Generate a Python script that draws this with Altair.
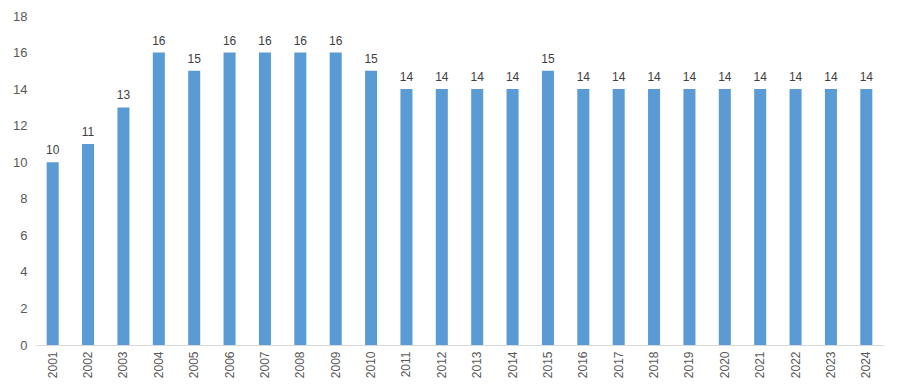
import altair as alt
import pandas as pd

years = [str(y) for y in range(2001, 2025)]
values = [10, 11, 13, 16, 15, 16, 16, 16, 16, 15, 14, 14, 14, 14, 15,
          14, 14, 14, 14, 14, 14, 14, 14, 14]
y_ticks = [0, 2, 4, 6, 8, 10, 12, 14, 16, 18]

df = pd.DataFrame({"year": years, "value": values})

FONT = "Liberation Sans"
GRAY = "#595959"

base = alt.Chart(df).encode(
    x=alt.X("year:N", sort=years, title=None,
            scale=alt.Scale(paddingInner=0.66, paddingOuter=0.33),
            axis=alt.Axis(labelAngle=-90, labelAlign="right", labelBaseline="middle",
                          labelPadding=6, ticks=False, domainColor="#D9D9D9",
                          labelOverlap=False,
                          labelColor=GRAY, labelFont=FONT, labelFontSize=12, grid=False)),
    y=alt.Y("value:Q", title=None,
            scale=alt.Scale(domain=[0, 18], nice=False),
            axis=alt.Axis(values=y_ticks, tickCount=10, grid=False, domain=False,
                          ticks=False, labelOverlap=False, labelFlush=False,
                          labelPadding=8, labelColor=GRAY, labelFont=FONT,
                          labelFontSize=13)),
)

bars = base.mark_bar(color="#5B9BD5")

labels = base.mark_text(dy=-5, baseline="bottom", font=FONT, fontSize=12,
                        color="#404040").encode(
    text=alt.Text("value:Q"),
)

chart = (bars + labels).properties(
    width=849, height=329,
    autosize=alt.AutoSizeParams(type="none"),
    padding={"left": 27, "top": 8, "right": 9, "bottom": 36},
).configure_view(stroke=None)

chart.save("out.html", embed_options={"renderer": "svg", "actions": False})
